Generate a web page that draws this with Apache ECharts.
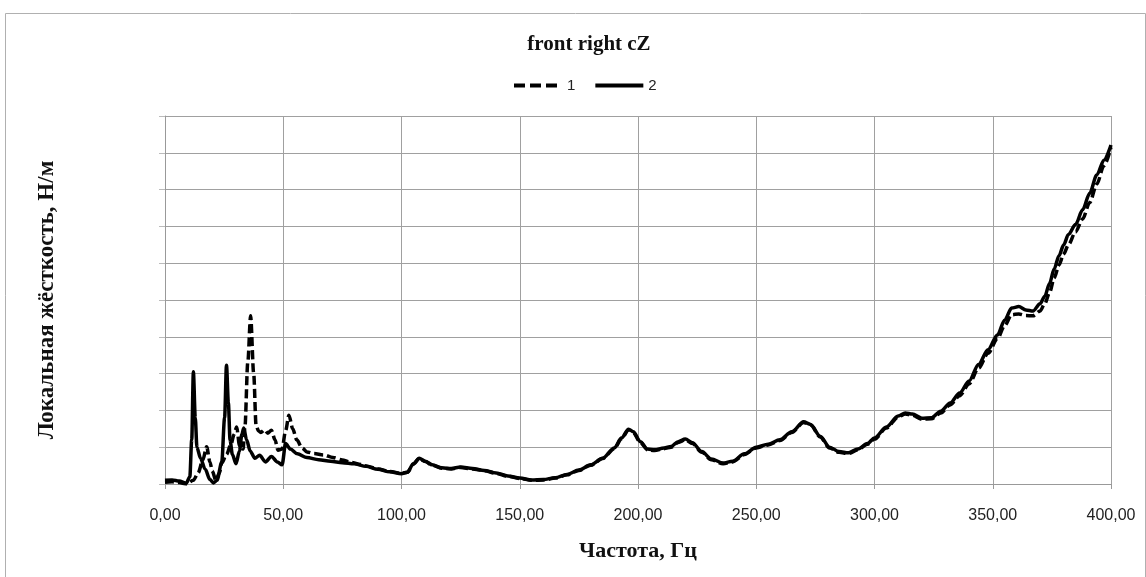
<!DOCTYPE html>
<html>
<head>
<meta charset="utf-8">
<script src="https://cdn.jsdelivr.net/npm/echarts@6/dist/echarts.min.js"></script>
<style>
html,body{margin:0;padding:0;background:#fff;}
#chart{width:1146px;height:577px;}
</style>
</head>
<body>
<div id="chart"></div>
<script>
// Series 1 (dashed)
const freq1 = [0,3,6,9,12,14,16,17.6,19,20,21.5,23,24,26,28,29.2,30.3,31.5,33,33.8,35,36.2,37.5,38.5,39.5,40.5,42,43.5,45,46.5,47.8,49.5,51,52.4,54,55.7,58,60,63,67,71,75,78,82,85,90,95,100,102.5,105,107.5,110,113,117,121,125,130,135,140,145,150,155,160,165,170,175,180,185,190,193,196,198,201,204,207,211,214,217,220,223,227,231,236,240,245,250,255,260,265,270,273,277,281,285,289,293,297,300,305,310,313,316,320,324,328,332,336,340,344,348,352,355,358,361,364,367,370,372,374,376,378,380,382,385,388,391,394,397,400];
const stiff1 = [0.05,0.06,0.04,0.0,0.1,0.3,0.65,1.01,0.6,0.35,0.1,0.3,0.57,0.8,1.1,1.35,1.55,1.05,0.95,1.55,3.3,4.57,3.0,1.6,1.45,1.4,1.47,1.38,1.46,1.2,0.92,0.95,1.45,1.87,1.5,1.2,0.98,0.87,0.83,0.79,0.72,0.65,0.6,0.54,0.49,0.41,0.34,0.29,0.32,0.54,0.69,0.61,0.51,0.43,0.41,0.45,0.41,0.36,0.29,0.21,0.15,0.1,0.11,0.16,0.25,0.37,0.51,0.69,0.96,1.23,1.47,1.4,1.13,0.93,0.91,0.96,1.0,1.13,1.2,1.1,0.86,0.66,0.55,0.6,0.8,0.98,1.06,1.18,1.4,1.67,1.6,1.28,0.98,0.86,0.83,0.93,1.08,1.22,1.52,1.82,1.9,1.87,1.76,1.77,1.93,2.15,2.4,2.72,3.15,3.55,3.95,4.3,4.6,4.62,4.58,4.57,4.7,4.9,5.2,5.6,5.95,6.25,6.5,6.85,7.2,7.65,8.15,8.65,9.15];

// Series 2 (solid)
const freq2 = [0,3,6,9,10.5,11.3,12,12.8,13.5,15,17,19,20.5,22,24,25.2,26,26.8,27.5,28.5,30,31.5,32.5,33.3,34.5,36,38,40,42.5,45,47.5,49.5,51,53,56,60,65,70,75,80,85,90,95,100,102.5,105,107.5,110,113,117,121,125,130,135,140,145,150,155,160,165,170,175,180,185,190,193,196,198,201,204,207,211,214,217,220,223,227,231,236,240,245,250,255,260,265,270,273,277,281,285,289,293,297,300,305,310,313,316,320,324,328,332,336,340,344,348,352,355,358,361,364,367,370,372,374,376,378,380,382,385,388,391,394,397,400];
const stiff2 = [0.1,0.11,0.08,0.02,0.2,1.2,3.05,1.8,1.0,0.7,0.4,0.12,0.03,0.1,0.6,1.8,3.23,2.2,1.2,0.8,0.55,0.9,1.35,1.52,1.2,0.9,0.7,0.78,0.6,0.75,0.6,0.52,1.1,0.95,0.82,0.72,0.66,0.62,0.58,0.55,0.48,0.4,0.33,0.28,0.32,0.55,0.7,0.62,0.52,0.44,0.42,0.46,0.42,0.37,0.3,0.22,0.16,0.11,0.12,0.17,0.26,0.38,0.52,0.7,0.98,1.25,1.49,1.42,1.15,0.95,0.93,0.98,1.02,1.15,1.22,1.12,0.88,0.68,0.57,0.62,0.82,1.0,1.08,1.2,1.42,1.69,1.62,1.3,1.0,0.88,0.85,0.95,1.1,1.25,1.55,1.85,1.93,1.9,1.79,1.8,1.98,2.2,2.47,2.8,3.25,3.65,4.05,4.45,4.78,4.82,4.73,4.7,4.9,5.1,5.45,5.85,6.2,6.5,6.78,7.05,7.45,7.9,8.4,8.8,9.21];

const xTicks = [0,50,100,150,200,250,300,350,400];
const seriesNames = ['1','2'];
const chartTitle = 'front right cZ';
const xName = 'Частота, Гц';
const yName = 'Локальная жёсткость, Н/м';

function pairs(xs, ys){ return xs.map((x,i)=>[x, ys[i]]); }

const chart = echarts.init(document.getElementById('chart'), null, {renderer:'canvas'});
const serif = '"Liberation Serif","DejaVu Serif",serif';
const sans = '"Liberation Sans",Arial,sans-serif';
chart.setOption({
  animation:false,
  backgroundColor:'#fff',
  title:{
    text:chartTitle, left:584, top:29, textAlign:'center',
    textStyle:{fontFamily:serif, fontWeight:'bold', fontSize:21, color:'#111'}
  },
  legend:{
    left:507, top:73, itemWidth:48, itemHeight:14, itemGap:18,
    itemStyle:{opacity:0},
    data:[
      {name:seriesNames[0], lineStyle:{width:4, type:[11,5], color:'#000'}},
      {name:seriesNames[1], lineStyle:{width:4, type:'solid', color:'#000'}}
    ],
    textStyle:{fontFamily:sans, fontSize:15, color:'#222'}
  },
  grid:{left:165, right:35, top:116, bottom:93, containLabel:false},
  xAxis:{
    type:'value', min:0, max:400, interval:50,
    name:xName, nameLocation:'middle', nameGap:56,
    nameTextStyle:{fontFamily:serif, fontWeight:'bold', fontSize:22, color:'#111'},
    axisLine:{show:true, lineStyle:{color:'#999', width:1}},
    axisTick:{show:true, length:5, lineStyle:{color:'#999'}},
    axisLabel:{margin:24, fontFamily:sans, fontSize:16, color:'#222',
      formatter:v=>v.toFixed(2).replace('.',',')},
    splitLine:{show:true, lineStyle:{color:'#a0a0a0', width:1}}
  },
  yAxis:{
    type:'value', min:0, max:10, interval:1,
    name:yName, nameLocation:'middle', nameGap:106, nameRotate:90,
    nameTextStyle:{fontFamily:serif, fontWeight:'bold', fontSize:23, color:'#111'},
    axisLine:{show:true, lineStyle:{color:'#999', width:1}},
    axisTick:{show:true, length:6, lineStyle:{color:'#bbb'}},
    axisLabel:{show:false},
    splitLine:{show:true, lineStyle:{color:'#a0a0a0', width:1}}
  },
  graphic:[{type:'rect', left:3, top:11, shape:{width:1140, height:600}, style:{fill:'none', stroke:'#b0b0b0', lineWidth:1}, silent:true, z:-1}],
  series:[
    {name:seriesNames[0], type:'line', data:pairs(freq1, stiff1), showSymbol:false, symbol:'none',
     smooth:0.3, smoothMonotone:'x', lineStyle:{color:'#000', width:3.5, type:[9,4]}, itemStyle:{color:'#000'}, z:3},
    {name:seriesNames[1], type:'line', data:pairs(freq2, stiff2), showSymbol:false, symbol:'none',
     smooth:0.3, smoothMonotone:'x', lineStyle:{color:'#000', width:3.5, type:'solid'}, itemStyle:{color:'#000'}, z:4}
  ]
});
</script>
</body>
</html>
